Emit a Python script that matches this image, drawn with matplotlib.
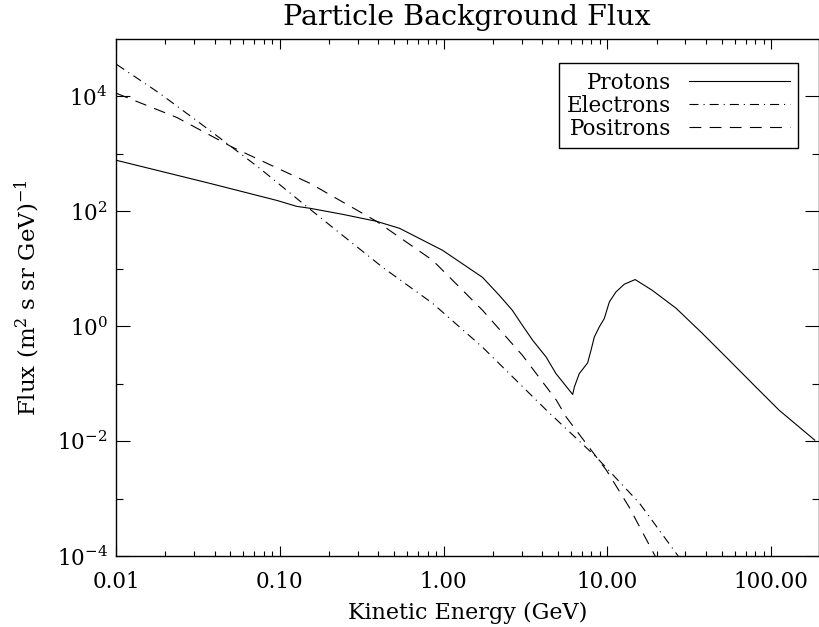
# Particle background flux: protons, electrons, positrons vs kinetic energy

import math
import matplotlib
matplotlib.use('Agg')
import matplotlib.pyplot as plt
from matplotlib.ticker import FixedLocator, FuncFormatter, NullFormatter, LogLocator

plt.rcParams['font.family'] = 'DejaVu Serif'
plt.rcParams['mathtext.fontset'] = 'dejavuserif'
plt.rcParams['lines.scale_dashes'] = False

# protons (GeV, flux)
eProton = [0.0101, 0.0374, 0.0959, 0.127, 0.153, 0.242, 0.390, 0.539, 0.986, 1.73,
           2.19, 2.63, 3.03, 3.50, 4.23, 4.86, 6.15, 6.30, 6.75, 7.59, 7.96, 8.34,
           8.94, 9.59, 10.3, 11.3, 12.7, 14.8, 18.8, 26.3, 38.0, 55.5, 81.0, 112, 185]
fProton = [771, 307, 155, 122, 113, 88.7, 67.0, 50.6, 21.0, 7.10,
           3.46, 1.90, 1.04, 0.572, 0.292, 0.150, 0.0649, 0.0879, 0.150, 0.230, 0.383, 0.652,
           0.972, 1.36, 2.65, 3.95, 5.38, 6.49, 4.23, 2.06, 0.755, 0.257, 0.0869, 0.0346, 0.0104]

# electrons
eElectron = [0.0101, 0.0185, 0.0374, 0.0755, 0.138, 0.210, 0.425, 0.857, 1.73, 4.25, 8.57, 15.7, 27.1]
fElectron = [36000, 11300, 2560, 560, 138, 52.7, 10.6, 2.51, 0.432, 0.0346, 0.00527, 0.000836, 1e-4]

# positrons
ePositron = [0.0101, 0.0235, 0.0516, 0.153, 0.390, 0.857, 1.73, 3.03, 4.89, 5.62, 9.87, 13.6, 19.6]
fPositron = [11300, 4310, 1300, 307, 67.0, 14.1, 1.90, 0.313, 0.0516, 0.0261, 0.00313, 0.000711, 1e-4]

xMajor = [0.01, 0.1, 1.0, 10.0, 100.0]
yMajor = [1e-4, 1e-2, 1e0, 1e2, 1e4]
yMinor = [1e-3, 1e-1, 1e1, 1e3]

f = plt.figure(figsize=(8.19, 6.27), dpi=100)
ax = f.add_axes([116/819, 71/627, 702.5/819, 517/627])

ax.plot(eProton, fProton, color='black', lw=0.8, label='Protons')
ax.plot(eElectron, fElectron, color='black', lw=0.8, linestyle=(0, (6.5, 3.6, 0.8, 3.6)), label='Electrons')
ax.plot(ePositron, fPositron, color='black', lw=0.8, linestyle=(0, (8.5, 6.0)), label='Positrons')

ax.set_xscale('log')
ax.set_yscale('log')
ax.set_xlim(0.01, 195)
ax.set_ylim(1e-4, 1e5)

ax.xaxis.set_major_locator(FixedLocator(xMajor))
ax.xaxis.set_minor_locator(LogLocator(base=10, subs=range(2, 10)))
ax.xaxis.set_major_formatter(FuncFormatter(lambda v, p: '%.2f' % v))
ax.xaxis.set_minor_formatter(NullFormatter())
ax.yaxis.set_major_locator(FixedLocator(yMajor))
ax.yaxis.set_minor_locator(FixedLocator(yMinor))
ax.yaxis.set_major_formatter(FuncFormatter(lambda v, p: r'$\mathregular{10^{%d}}$' % round(math.log10(v))))
ax.yaxis.set_minor_formatter(NullFormatter())

ax.tick_params(which='both', direction='in', top=True, right=True, width=0.8, labelsize=15.5, colors='black')
ax.tick_params(axis='x', which='major', length=7.2, pad=10.5)
ax.tick_params(axis='x', which='minor', length=3.6)
ax.tick_params(axis='y', which='major', length=10, pad=6)
ax.tick_params(axis='y', which='minor', length=5)
for s in ax.spines.values():
    s.set_linewidth(1.0)

ax.set_title('Particle Background Flux', fontsize=20.5, pad=10)
ax.set_xlabel('Kinetic Energy (GeV)', fontsize=16, labelpad=7)
ax.set_ylabel(r'Flux (m$^2$ s sr GeV)$^{-1}$', fontsize=16.5)
ax.yaxis.set_label_coords(-0.106, 0.5)

leg = ax.legend(loc='upper right', bbox_to_anchor=(1 - 20/702, 1 - 24/517), borderaxespad=0,
                markerfirst=False, fontsize=15.5, handlelength=4.7, handletextpad=0.8,
                labelspacing=0.05, borderpad=0.4, fancybox=False, framealpha=1)
leg.get_frame().set_edgecolor('black')
leg.get_frame().set_linewidth(1.0)

f.savefig('out.png', dpi=100)
